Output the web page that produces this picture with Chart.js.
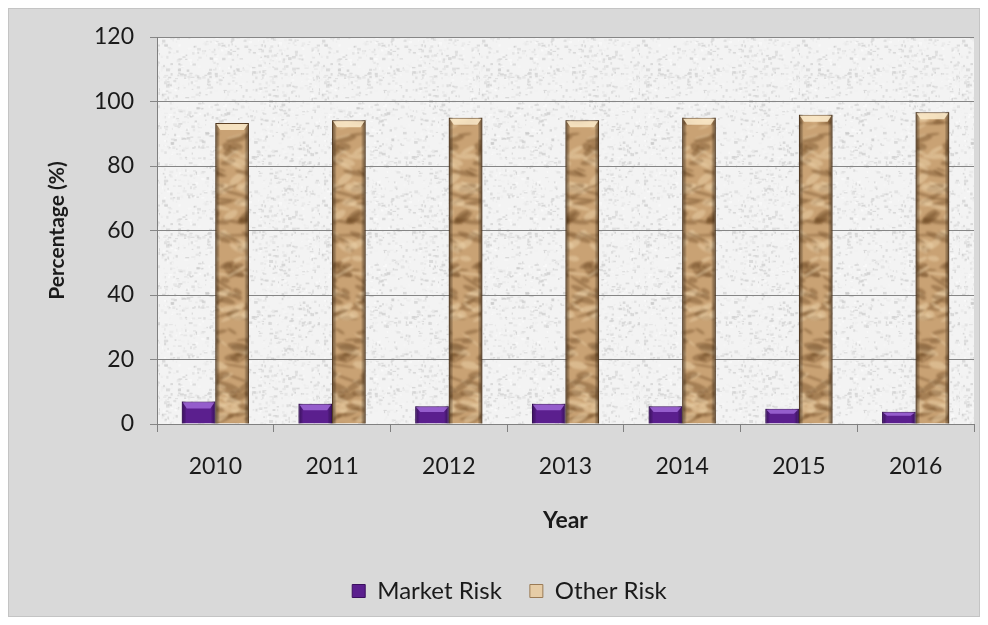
<!DOCTYPE html>
<html>
<head>
<meta charset="utf-8">
<script src="https://cdn.jsdelivr.net/npm/chart.js@4.4.1/dist/chart.umd.min.js"></script>
<style>
  html, body { margin: 0; padding: 0; background: #ffffff; }
  #wrap { width: 988px; height: 625px; }
</style>
</head>
<body>
<div id="wrap"><canvas id="riskChart" width="988" height="625"></canvas></div>
<script>
// Dados
const years = ['2010', '2011', '2012', '2013', '2014', '2015', '2016'];
const marketRisk = [7.0, 6.3, 5.5, 6.3, 5.5, 4.7, 3.8];
const otherRisk = [93.3, 94.2, 95.0, 94.2, 95.0, 95.9, 96.7];
const yTicks = [0, 20, 40, 60, 80, 100, 120];

const FONT = 'Lato, "Open Sans", sans-serif';

// Gerador pseudo-aleatório simples (só para as texturas)
function seeded(seed) {
    let s = seed;
    return function() {
        s = (s * 1664525 + 1013904223) % 4294967296;
        return s / 4294967296;
    };
}

// Textura de granito para o fundo da área do gráfico
function makeGranite() {
    const c = document.createElement('canvas');
    c.width = 160; c.height = 160;
    const g = c.getContext('2d');
    const rnd = seeded(17);
    g.fillStyle = '#f3f3f3';
    g.fillRect(0, 0, 160, 160);
    for (let i = 0; i < 1500; i++) {
        const v = Math.floor(195 + rnd() * 60);
        g.fillStyle = 'rgba(' + v + ',' + v + ',' + v + ',0.6)';
        g.fillRect(rnd() * 160, rnd() * 160, 1 + rnd() * 3, 1 + rnd() * 2);
    }
    return g.createPattern(c, 'repeat');
}

// Textura de papel amassado para as barras "Other Risk"
function makeCrumple() {
    const W = 36, H = 400;
    const c = document.createElement('canvas');
    c.width = W; c.height = H;
    const g = c.getContext('2d');
    const rnd = seeded(5);
    g.fillStyle = '#c9a274';
    g.fillRect(0, 0, W, H);
    g.filter = 'blur(1.2px)';
    for (let i = 0; i < 170; i++) {
        const dark = rnd() < 0.55;
        g.fillStyle = dark ? 'rgba(110,72,36,0.4)' : 'rgba(240,214,176,0.45)';
        const x = rnd() * W, y = rnd() * H;
        const rx = 4 + rnd() * 10, ry = 1 + rnd() * 3, rot = -0.7 + rnd() * 1.4;
        // desenha também as cópias deslocadas para a textura emendar sem costura
        [-W, 0, W].forEach(dx => {
            [-H, 0, H].forEach(dy => {
                g.beginPath();
                g.ellipse(x + dx, y + dy, rx, ry, rot, 0, Math.PI * 2);
                g.fill();
            });
        });
    }
    return g.createPattern(c, 'repeat');
}

const granite = makeGranite();
const crumple = makeCrumple();

// Plugin para o fundo cinza e a área texturizada
const backgroundPlugin = {
    id: 'backgroundPlugin',
    beforeDraw(chart) {
        const ctx = chart.ctx;
        const a = chart.chartArea;
        ctx.save();
        ctx.fillStyle = '#ffffff';
        ctx.fillRect(0, 0, chart.width, chart.height);
        ctx.fillStyle = '#d9d9d9';
        ctx.fillRect(8, 8, 972, 609);
        ctx.strokeStyle = '#c4c4c4';
        ctx.strokeRect(8.5, 8.5, 971, 608);
        ctx.fillStyle = granite;
        ctx.fillRect(a.left, a.top, a.right - a.left, a.bottom - a.top);
        ctx.restore();
    }
};

// Plugin para o efeito de bisel nas barras
const bevelPlugin = {
    id: 'bevelPlugin',
    afterDatasetsDraw(chart) {
        const ctx = chart.ctx;
        chart.data.datasets.forEach((ds, di) => {
            const meta = chart.getDatasetMeta(di);
            meta.data.forEach(bar => {
                const left = bar.x - bar.width / 2;
                const w = bar.width;
                const top = bar.y;
                const h = bar.base - bar.y;
                const edge = di === 0 ? 'rgba(40,5,70,0.55)' : 'rgba(70,45,20,0.65)';
                const light = di === 0 ? 'rgba(160,105,215,0.85)' : 'rgba(250,232,200,0.9)';
                ctx.save();
                const grad = ctx.createLinearGradient(left, 0, left + w, 0);
                grad.addColorStop(0, edge);
                grad.addColorStop(0.14, 'rgba(0,0,0,0)');
                grad.addColorStop(0.86, 'rgba(0,0,0,0)');
                grad.addColorStop(1, edge);
                ctx.fillStyle = grad;
                ctx.fillRect(left, top, w, h);
                const cap = Math.min(7, h / 3);
                ctx.fillStyle = light;
                ctx.beginPath();
                ctx.moveTo(left + 1, top + 1);
                ctx.lineTo(left + w - 1, top + 1);
                ctx.lineTo(left + w - 5, top + cap);
                ctx.lineTo(left + 5, top + cap);
                ctx.closePath();
                ctx.fill();
                ctx.restore();
            });
        });
    }
};

new Chart(document.getElementById('riskChart'), {
    type: 'bar',
    data: {
        labels: years,
        datasets: [{
            label: 'Market Risk',
            data: marketRisk,
            backgroundColor: '#5b1f8e',
            borderColor: '#3a0f5e',
            borderWidth: 1,
            categoryPercentage: 0.575,
            barPercentage: 1
        }, {
            label: 'Other Risk',
            data: otherRisk,
            backgroundColor: crumple,
            borderColor: '#5e4226',
            borderWidth: 1,
            categoryPercentage: 0.575,
            barPercentage: 1
        }]
    },
    options: {
        responsive: false,
        animation: false,
        layout: { padding: { left: 45, top: 37, right: 14, bottom: 12 } },
        scales: {
            x: {
                grid: {
                    display: true,
                    drawOnChartArea: false,
                    color: '#808080',
                    tickLength: 8
                },
                border: { color: '#808080' },
                ticks: {
                    color: '#1a1a1a',
                    font: { family: FONT, size: 23 },
                    padding: 21
                },
                title: {
                    display: true,
                    text: 'Year',
                    color: '#1a1a1a',
                    font: { family: FONT, size: 23, weight: 'bold' },
                    padding: 17
                },
                afterFit(scale) { scale.height = 127; }
            },
            y: {
                min: 0,
                max: 120,
                afterBuildTicks(scale) {
                    scale.ticks = yTicks.map(v => ({ value: v }));
                },
                grid: {
                    color: '#868686',
                    tickLength: 7
                },
                border: { color: '#808080' },
                ticks: {
                    color: '#1a1a1a',
                    font: { family: FONT, size: 23 },
                    padding: 16
                },
                title: {
                    display: true,
                    text: 'Percentage (%)',
                    color: '#1a1a1a',
                    font: { family: FONT, size: 21, weight: 'bold' },
                    padding: 0
                },
                afterFit(scale) { scale.width = 112; }
            }
        },
        plugins: {
            legend: {
                position: 'bottom',
                labels: {
                    color: '#1a1a1a',
                    font: { family: FONT, size: 24 },
                    boxWidth: 13,
                    boxHeight: 13,
                    padding: 28,
                    generateLabels(chart) {
                        const items = Chart.defaults.plugins.legend.labels.generateLabels(chart);
                        items[0].fillStyle = '#5b1f8e';
                        items[0].strokeStyle = '#3a0f5e';
                        items[1].fillStyle = '#e6cca6';
                        items[1].strokeStyle = '#9a7a55';
                        return items;
                    }
                }
            },
            tooltip: { enabled: false }
        }
    },
    plugins: [backgroundPlugin, bevelPlugin]
});
</script>
</body>
</html>
